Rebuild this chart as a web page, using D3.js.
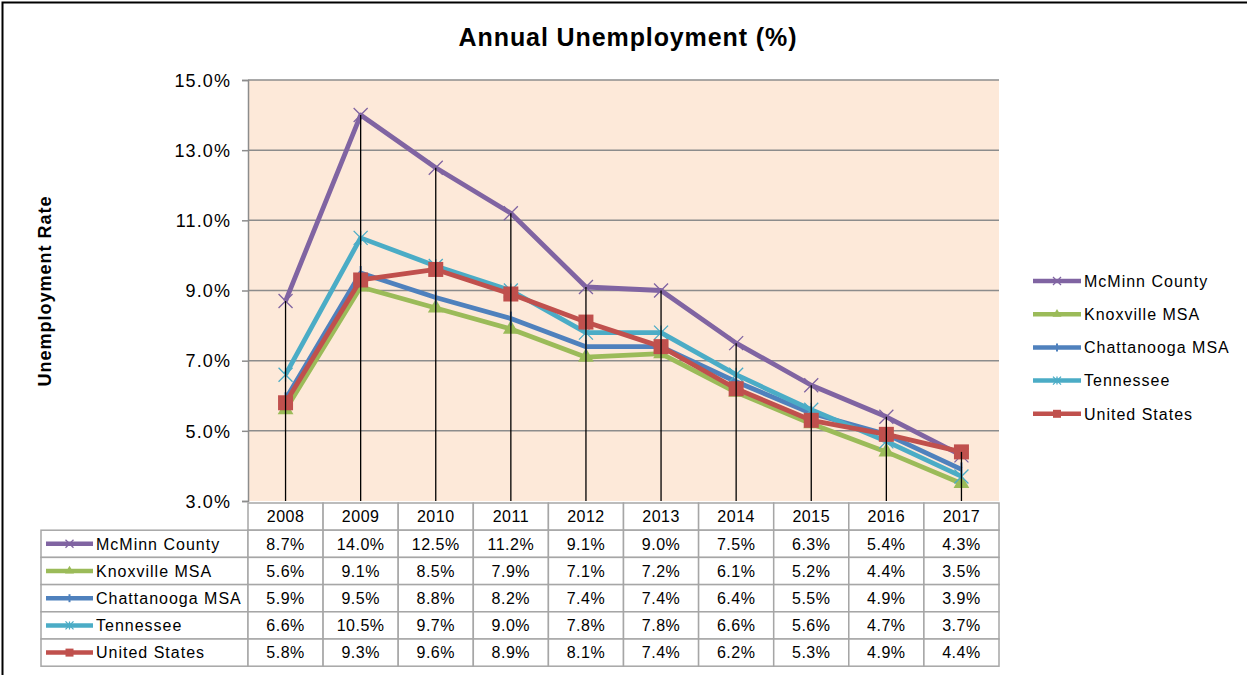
<!DOCTYPE html>
<html>
<head>
<meta charset="utf-8">
<script src="https://cdn.jsdelivr.net/npm/d3@7"></script>
<style>
  body { margin: 0; background: #fff; }
  svg { display: block; font-family: "Liberation Sans", Arial, sans-serif; }
</style>
</head>
<body>
<div id="chart"></div>
<script>
// data
const years = ["2008", "2009", "2010", "2011", "2012", "2013", "2014", "2015", "2016", "2017"];
const seriesNames = ["McMinn County", "Knoxville MSA", "Chattanooga MSA", "Tennessee", "United States"];
const mcminn = [8.7, 14.0, 12.5, 11.2, 9.1, 9.0, 7.5, 6.3, 5.4, 4.3];
const knoxville = [5.6, 9.1, 8.5, 7.9, 7.1, 7.2, 6.1, 5.2, 4.4, 3.5];
const chattanooga = [5.9, 9.5, 8.8, 8.2, 7.4, 7.4, 6.4, 5.5, 4.9, 3.9];
const tennessee = [6.6, 10.5, 9.7, 9.0, 7.8, 7.8, 6.6, 5.6, 4.7, 3.7];
const unitedStates = [5.8, 9.3, 9.6, 8.9, 8.1, 7.4, 6.2, 5.3, 4.9, 4.4];
const yTicks = [3, 5, 7, 9, 11, 13, 15];

const colors = ["#8064A2", "#9BBB59", "#4F81BD", "#4BACC6", "#C0504D"];
const markers = ["x", "triangle", "plus", "star", "square"];
const allValues = [mcminn, knoxville, chattanooga, tennessee, unitedStates];
const series = seriesNames.map((name, i) => ({ name, values: allValues[i], color: colors[i], marker: markers[i] }));

const W = 1247, H = 675;
const svg = d3.select("#chart").append("svg").attr("width", W).attr("height", H);

// outer frame (only top/left visible in the picture)
svg.append("rect").attr("x", 2.5).attr("y", 2.5).attr("width", W + 10).attr("height", H + 10)
    .attr("fill", "#fff").attr("stroke", "#000").attr("stroke-width", 2);

const plot = { left: 248, right: 999, top: 80, bottom: 501 };

const x = d3.scaleBand().domain(years).range([plot.left, plot.right]);
const y = d3.scaleLinear().domain([3, 15]).range([plot.bottom, plot.top]);
const cx = d => x(d) + x.bandwidth() / 2;

// title
svg.append("text").attr("x", 628).attr("y", 46).attr("text-anchor", "middle")
    .attr("font-size", 25).attr("font-weight", "bold").attr("letter-spacing", 0.9).attr("fill", "#000")
    .text("Annual Unemployment (%)");

// plot background
svg.append("rect").attr("x", plot.left).attr("y", plot.top)
    .attr("width", plot.right - plot.left).attr("height", plot.bottom - plot.top)
    .attr("fill", "#FDE9D9");

// gridlines
svg.append("g").selectAll("line").data(yTicks.filter(t => t > 3)).join("line")
    .attr("x1", plot.left).attr("x2", plot.right)
    .attr("y1", d => y(d)).attr("y2", d => y(d))
    .attr("stroke", "#8c8c8c").attr("stroke-width", 1.5);

// y axis
const yAxis = svg.append("g").attr("transform", `translate(${plot.left},0)`)
    .call(d3.axisLeft(y).tickValues(yTicks).tickSize(6).tickPadding(11)
        .tickFormat(d => d.toFixed(1) + "%"));
yAxis.select(".domain").attr("stroke", "#8c8c8c").attr("stroke-width", 1.5);
yAxis.selectAll(".tick line").attr("stroke", "#8c8c8c").attr("stroke-width", 1.5);
yAxis.selectAll(".tick text").attr("font-size", 18).attr("letter-spacing", 1.1).attr("fill", "#000")
    .attr("font-family", "Liberation Sans, Arial, sans-serif").attr("dy", "0.35em");

svg.append("text").attr("transform", "translate(51,291) rotate(-90)")
    .attr("text-anchor", "middle").attr("font-size", 18).attr("font-weight", "bold").attr("letter-spacing", 1)
    .text("Unemployment Rate");

// markers
function drawMarker(g, type, color, size) {
  const s = size;
  if (type === "square") {
    g.append("rect").attr("x", -s * 0.5).attr("y", -s * 0.5).attr("width", s).attr("height", s).attr("fill", color);
  } else if (type === "triangle") {
    g.append("path").attr("d", d3.symbol(d3.symbolTriangle, s * s * 0.55)()).attr("fill", color);
  } else if (type === "x") {
    g.append("path").attr("d", `M${-s/2},${-s/2}L${s/2},${s/2}M${-s/2},${s/2}L${s/2},${-s/2}`)
        .attr("stroke", color).attr("stroke-width", 1.3).attr("fill", "none");
  } else if (type === "star") {
    g.append("path").attr("d", `M${-s/2},${-s/2}L${s/2},${s/2}M${-s/2},${s/2}L${s/2},${-s/2}M0,${-s/2}L0,${s/2}`)
        .attr("stroke", color).attr("stroke-width", 1.3).attr("fill", "none");
  } else if (type === "plus") {
    g.append("path").attr("d", `M0,${-s/2}L0,${s/2}`)
        .attr("stroke", color).attr("stroke-width", 2).attr("fill", "none");
  }
}

// series lines
const line = d3.line().x((d, i) => cx(years[i])).y(d => y(d));
series.forEach(s => {
  const g = svg.append("g");
  g.append("path").datum(s.values).attr("d", line)
      .attr("fill", "none").attr("stroke", s.color).attr("stroke-width", 4.8)
      .attr("stroke-linejoin", "round");
  s.values.forEach((v, i) => {
    const mg = g.append("g").attr("transform", `translate(${cx(years[i])},${y(v)})`);
    drawMarker(mg, s.marker, s.color, s.marker === "square" ? 15 : 14);
  });
});

// drop lines from highest point in each category
svg.append("g").selectAll("line").data(years).join("line")
    .attr("x1", d => cx(d)).attr("x2", d => cx(d))
    .attr("y1", (d, i) => y(d3.max(allValues, v => v[i])))
    .attr("y2", plot.bottom)
    .attr("stroke", "#000").attr("stroke-width", 1.3);

// data table
const rowH = 27.2;
const tableTop = 503;
const labelLeft = 41;
const grid = svg.append("g");
const gridColor = "#a6a6a6";

// header
years.forEach(yr => {
  grid.append("rect").attr("x", x(yr)).attr("y", tableTop).attr("width", x.bandwidth()).attr("height", rowH)
      .attr("fill", "#fff").attr("stroke", gridColor).attr("stroke-width", 1.5);
  grid.append("text").attr("x", cx(yr)).attr("y", tableTop + rowH / 2).attr("dy", "0.36em")
      .attr("text-anchor", "middle").attr("font-size", 16).attr("letter-spacing", 0.5).text(yr);
});

series.forEach((s, r) => {
  const ry = tableTop + rowH * (r + 1);
  grid.append("rect").attr("x", labelLeft).attr("y", ry).attr("width", plot.left - labelLeft).attr("height", rowH)
      .attr("fill", "#fff").attr("stroke", gridColor).attr("stroke-width", 1.5);
  // legend key
  grid.append("line").attr("x1", 46).attr("x2", 93).attr("y1", ry + rowH / 2).attr("y2", ry + rowH / 2)
      .attr("stroke", s.color).attr("stroke-width", 4.5);
  drawMarker(grid.append("g").attr("transform", `translate(69.5,${ry + rowH / 2})`), s.marker, s.color, 8);
  grid.append("text").attr("x", 96).attr("y", ry + rowH / 2).attr("dy", "0.36em")
      .attr("font-size", 16).attr("letter-spacing", 1).text(s.name);
  s.values.forEach((v, i) => {
    grid.append("rect").attr("x", x(years[i])).attr("y", ry).attr("width", x.bandwidth()).attr("height", rowH)
        .attr("fill", "#fff").attr("stroke", gridColor).attr("stroke-width", 1.5);
    grid.append("text").attr("x", cx(years[i])).attr("y", ry + rowH / 2).attr("dy", "0.36em")
        .attr("text-anchor", "middle").attr("font-size", 16).attr("letter-spacing", 0.5).text(v.toFixed(1) + "%");
  });
});

// legend
const legend = svg.append("g").attr("transform", "translate(1033,281)");
series.forEach((s, i) => {
  const ly = i * 33.2;
  legend.append("line").attr("x1", 0).attr("x2", 48).attr("y1", ly).attr("y2", ly)
      .attr("stroke", s.color).attr("stroke-width", 4.5);
  drawMarker(legend.append("g").attr("transform", `translate(24,${ly})`), s.marker, s.color, 8);
  legend.append("text").attr("x", 51).attr("y", ly).attr("dy", "0.36em")
      .attr("font-size", 16).attr("letter-spacing", 1).text(s.name);
});
</script>
</body>
</html>
